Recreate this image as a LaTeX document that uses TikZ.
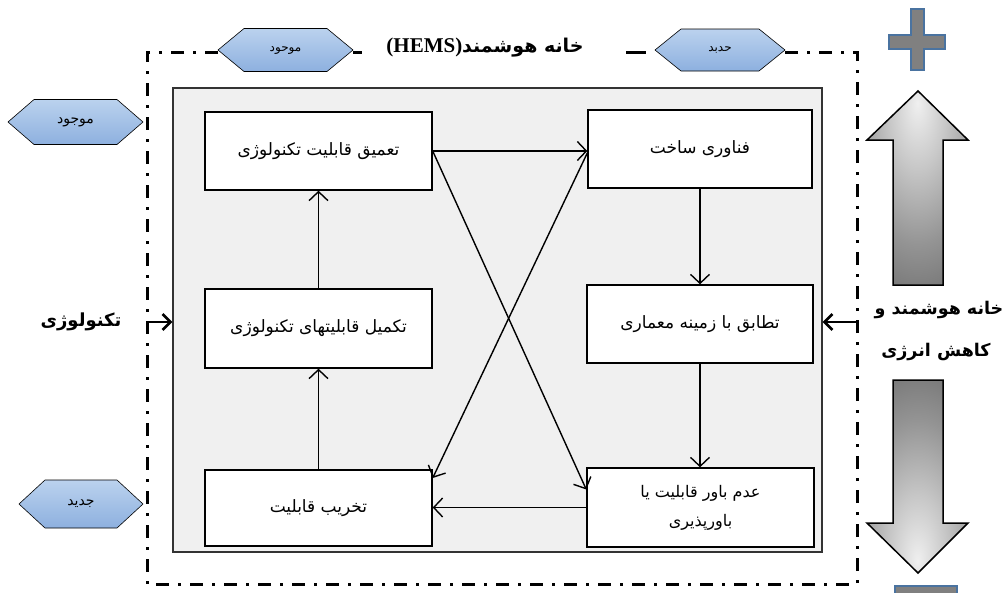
\documentclass[tikz,border=0pt]{standalone}
\usepackage{fontspec}
\usetikzlibrary{arrows.meta,calc}
\TeXXeTstate=1
\newfontfamily\fa[Script=Arabic]{DejaVu Sans}
\newfontfamily\tnr{Liberation Serif}
\definecolor{hexTop}{HTML}{BBD2EE}
\definecolor{hexBot}{HTML}{8DB0DF}
\definecolor{plusblue}{HTML}{4A73A0}
\pgfdeclareradialshading{upglow}{\pgfpoint{0bp}{22bp}}{color(0bp)=(black!6); color(14bp)=(black!22); color(30bp)=(black!42); color(46bp)=(black!58); color(100bp)=(black!68)}
\pgfdeclareradialshading{downglow}{\pgfpoint{0bp}{-22bp}}{color(0bp)=(black!6); color(14bp)=(black!22); color(30bp)=(black!42); color(46bp)=(black!58); color(100bp)=(black!68)}
\newcommand\hexnode[7]{%
  \shade[hexa] (#2-#4/2,#3) -- (#2-#4/2+26,#3-#5/2) -- (#2+#4/2-26,#3-#5/2) -- (#2+#4/2,#3) -- (#2+#4/2-26,#3+#5/2) -- (#2-#4/2+26,#3+#5/2) -- cycle;
  \node[hextext, font=\fa\fontsize{#7}{14}\selectfont] (#1) at (#2,#3) {\beginR #6\endR};}
\begin{document}
\begin{tikzpicture}[x=1pt,y=-1pt,
  procbox/.style={draw=black, line width=1.4pt, fill=white, minimum width=227pt, minimum height=78pt, align=center, inner sep=0pt, font=\fa\fontsize{17}{29}\selectfont},
  flow/.style={line width=1.4pt, -{Straight Barb[length=9pt,width=19pt,line width=1.4pt]}},
  sideflow/.style={line width=2.6pt, -{Straight Barb[length=8pt,width=16pt,line width=2.6pt]}},
  frame/.style={line width=3pt, dash pattern=on 13pt off 9pt on 3pt off 9pt},
  hexa/.style={draw=black, line width=0.6pt, top color=hexTop, bottom color=hexBot},
  hextext/.style={inner sep=0pt},
  bigarrow/.style={draw=black, line width=1.5pt},
  lbl/.style={font=\fa\bfseries\fontsize{18}{22}\selectfont, inner sep=0pt}
]
\useasboundingbox (0,0) rectangle (1007,592);
% outer dash-dot frame
\draw[frame] (218,52) -- (147,52) -- (147,584) -- (857,584) -- (857,52) -- (785,52);
\draw[line width=3pt] (353,52) -- (362,52);
\draw[line width=3pt] (626,52) -- (646,52);
% inner gray panel
\node[draw=black!80, line width=1.2pt, fill=gray!12, minimum width=649pt, minimum height=464pt, inner sep=0pt] (inner) at (497.5,320) {};
% hexagons
\hexnode{h1}{285.5}{50}{135}{43}{موحود}{12}
\hexnode{h2}{720}{50}{130}{42}{حدبد}{12}
\hexnode{h3}{75.5}{122}{135}{45}{موجود}{14}
\hexnode{h4}{81}{504}{124}{48}{جدید}{14}
% title
\node[inner sep=0pt] (title) at (485,48) {{\tnr\bfseries\fontsize{21}{24}\selectfont (HEMS)}{\fa\bfseries\fontsize{19}{24}\selectfont\beginR خانه هوشمند\endR}};
% process boxes
\node[procbox] (A) at (318.5,151) {\beginR تعمیق قابلیت تکنولوژی\endR};
\node[procbox, minimum height=79pt] (B) at (318.5,328.5) {\beginR تکمیل قابلیتهای تکنولوژی\endR};
\node[procbox, minimum height=76pt] (C) at (318.5,508) {\beginR تخریب قابلیت\endR};
\node[procbox, minimum width=224pt] (D) at (700,149) {\beginR فناوری ساخت\endR};
\node[procbox, minimum width=226pt] (E) at (700,324) {\beginR تطابق با زمینه معماری\endR};
\node[procbox, minimum width=227pt, minimum height=79pt, font=\fa\fontsize{16}{29}\selectfont] (F) at (700.5,507.5) {\beginR عدم باور قابلیت یا\endR\\\beginR باورپذیری\endR};
% connectors
\draw[flow] (A.east) -- (A.east -| D.west);
\draw[flow] (A.east) -- ($(F.west)+(0,-18)$);
\draw[flow] ($(D.west)+(0,4)$) -- ($(C.east)+(0,-30)$);
\draw[flow] (D.south) -- (E.north);
\draw[flow] (E.south) -- (E.south |- F.north);
\draw[flow] (F.west) -- (F.west -| C.east);
\draw[flow] (C.north) -- (B.south);
\draw[flow] (B.north) -- (A.south);
% side inputs
\coordinate (lf) at (147,322);
\coordinate (rf) at (857,322);
\draw[sideflow] (lf) -- (lf -| inner.west);
\draw[sideflow] (rf) -- (rf -| inner.east);
\node[lbl] (tech) at (81,322) {\beginR تکنولوژی\endR};
\node[lbl, font=\fa\bfseries\fontsize{17.5}{22}\selectfont] (r1) at (939,310) {\beginR خانه هوشمند و\endR};
\node[lbl, font=\fa\bfseries\fontsize{17.5}{22}\selectfont] (r2) at (936,352) {\beginR کاهش انرژی\endR};
% big gray arrows
\shade[bigarrow, shading=upglow] (918,91) -- (968,140) -- (943,140) -- (943,285) -- (893,285) -- (893,140) -- (867,140) -- cycle;
\shade[bigarrow, shading=downglow] (893,380) -- (943,380) -- (943,523) -- (968,523) -- (918,573) -- (867,523) -- (893,523) -- cycle;
% plus and minus
\draw[draw=plusblue, fill=gray, line width=1.5pt] (911,9) -- (924,9) -- (924,35) -- (945,35) -- (945,49) -- (924,49) -- (924,70) -- (911,70) -- (911,49) -- (889,49) -- (889,35) -- (911,35) -- cycle;
\draw[draw=plusblue, fill=gray, line width=1.5pt] (895,586) rectangle (957,600);
\end{tikzpicture}
\end{document}
